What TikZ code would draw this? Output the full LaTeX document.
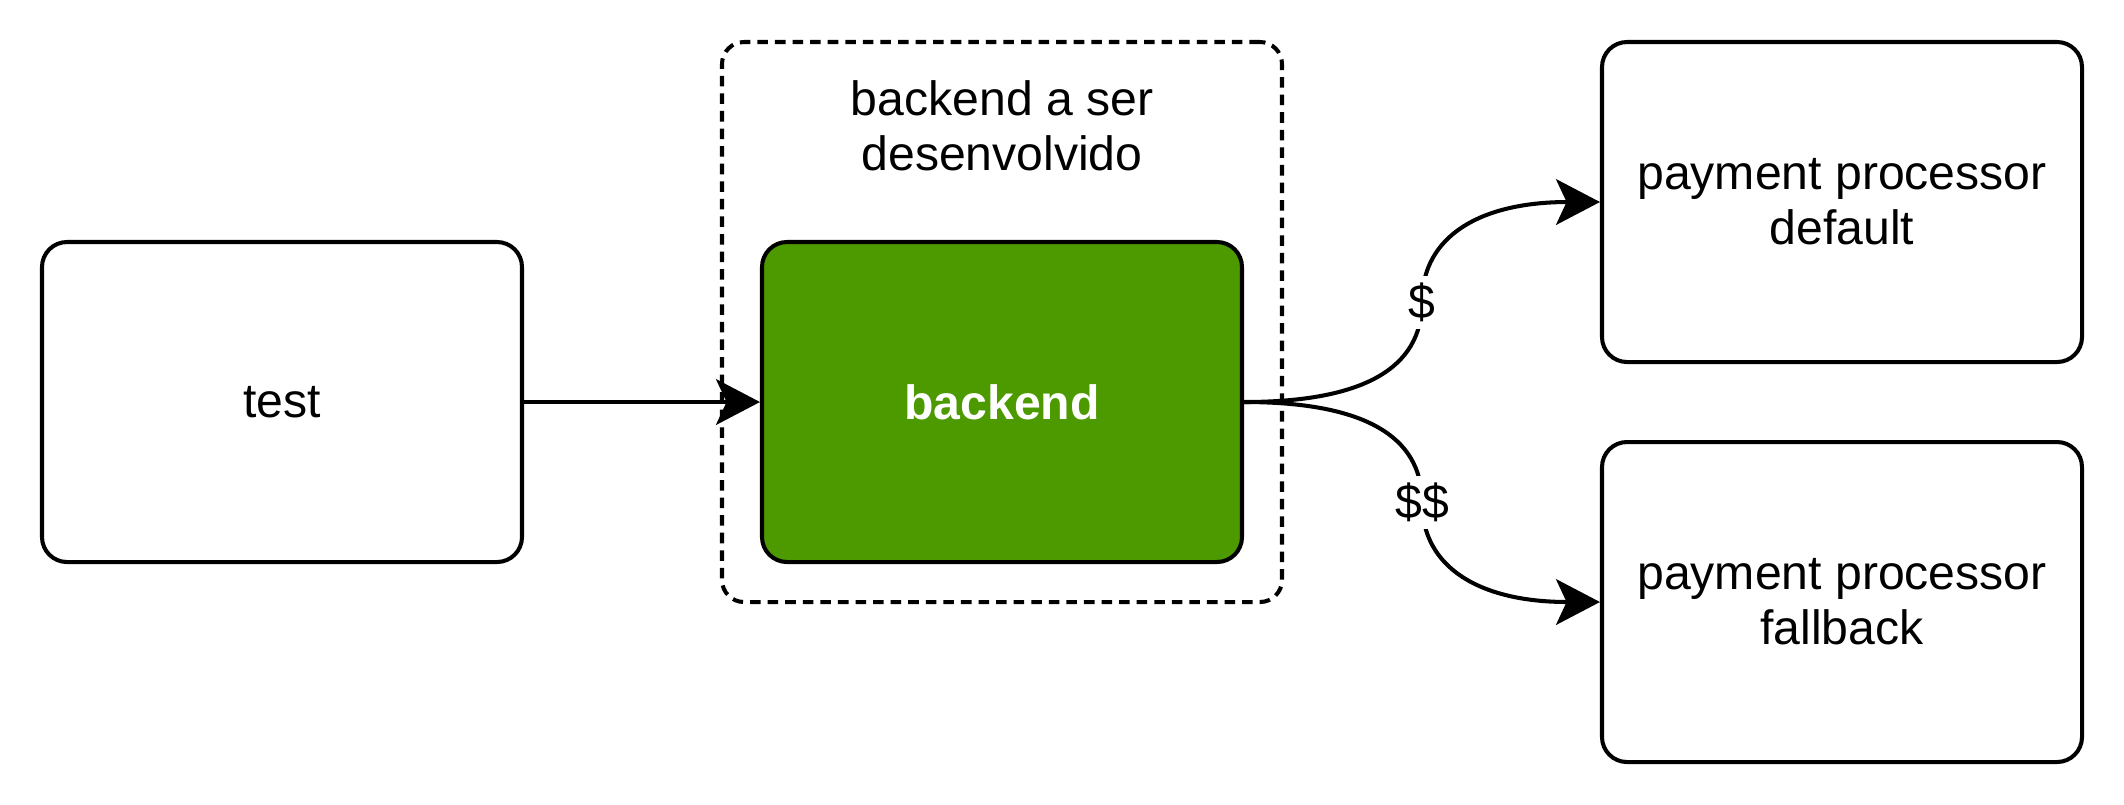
\documentclass[tikz,border=0pt]{standalone}
\usepackage{fontspec}
\setmainfont{Liberation Sans}
\usetikzlibrary{arrows.meta,calc}
\definecolor{bkgreen}{HTML}{4D9900}
\begin{document}
\begin{tikzpicture}[
  txt/.style={align=center, font=\fontsize{13.7}{15.7}\selectfont},
  box/.style={txt, draw, line width=1.15pt, rounded corners=0.25cm, minimum width=4.8cm, minimum height=3.2cm},
  group/.style={draw, line width=1.15pt, dash pattern=on 3pt off 2pt, rounded corners=0.22cm, minimum width=5.6cm, minimum height=5.6cm},
  flow/.style={line width=1.15pt, -{Stealth[length=12.5pt,width=13pt,inset=3pt]}},
  lbl/.style={txt, fill=white, inner sep=2pt}
]
\useasboundingbox (0,0) rectangle (21.24,-8.04);
\node[group] (grp) at (10.02,-3.22){};
\node[txt] (grptxt) at (10.02,-1.26){backend a ser\\desenvolvido};
\node[box] (test) at (2.82,-4.02){test};
\node[box, fill=bkgreen, text=white, font=\fontsize{13.7}{15.7}\selectfont\bfseries] (backend) at (10.02,-4.02){backend};
\node[box] (ppdef) at (18.42,-2.02){payment processor\\default};
\node[box] (ppfb) at (18.42,-6.02){payment processor\\fallback};
% midpoints of the curved edges and their corner points
\coordinate (m1) at ($(backend.east)!.5!(ppdef.west)$);
\coordinate (m2) at ($(backend.east)!.5!(ppfb.west)$);
\coordinate (c1) at (m1 |- backend.east);
\coordinate (d1) at (m1 |- ppdef.west);
\coordinate (c2) at (m2 |- backend.east);
\coordinate (d2) at (m2 |- ppfb.west);
\draw[flow](test) -- (backend);
\draw[flow](backend.east) .. controls ($(backend.east)!2/3!(c1)$) and ($(m1)!2/3!(c1)$) .. (m1) node[lbl]{\$}
  .. controls ($(m1)!2/3!(d1)$) and ($(ppdef.west)!2/3!(d1)$) .. (ppdef.west);
\draw[flow](backend.east) .. controls ($(backend.east)!2/3!(c2)$) and ($(m2)!2/3!(c2)$) .. (m2) node[lbl]{\$\$}
  .. controls ($(m2)!2/3!(d2)$) and ($(ppfb.west)!2/3!(d2)$) .. (ppfb.west);
\end{tikzpicture}
\end{document}
